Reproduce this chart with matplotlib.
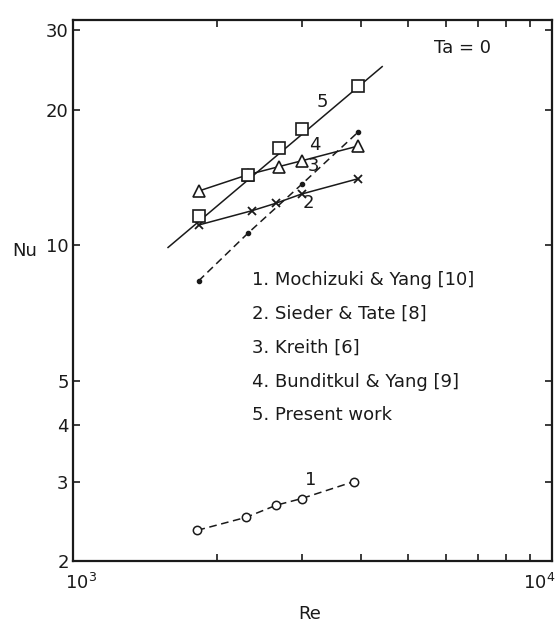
import matplotlib
matplotlib.use("Agg")
import matplotlib.pyplot as plt
import matplotlib.transforms as mtransforms
from matplotlib.ticker import FixedLocator, NullFormatter, NullLocator

# 1. Mochizuki & Yang (open circles, dashed)
re1 = [1820, 2300, 2660, 3000, 3860]
nu1 = [2.34, 2.50, 2.66, 2.75, 3.0]
# 2. Sieder & Tate (crosses, solid)
re2 = [1830, 2370, 2650, 3000, 3930]
nu2 = [11.1, 11.95, 12.4, 13.0, 14.05]
# 3. Kreith (small dots, dashed)
re3 = [1830, 2320, 3000, 3930]
nu3 = [8.35, 10.65, 13.65, 17.8]
# 4. Bunditkul & Yang (open triangles, solid)
re4 = [1830, 2320, 2690, 3000, 3930]
nu4 = [13.2, 14.35, 14.95, 15.4, 16.6]
# 5. Present work (open squares + fitted line)
re5 = [1830, 2320, 2690, 3000, 3930]
nu5 = [11.6, 14.35, 16.4, 18.1, 22.6]
fit5_re = [1580, 4420]
fit5_nu = [9.9, 24.9]

legend_lines = ["1. Mochizuki & Yang [10]", "2. Sieder & Tate [8]", "3. Kreith [6]",
                "4. Bunditkul & Yang [9]", "5. Present work"]
curve_tags = ["1", "2", "3", "4", "5"]
tag_re = [3130, 3100, 3170, 3200, 3310]
tag_nu = [3.02, 12.4, 15.0, 16.7, 20.8]
y_ticks = [2, 3, 4, 5, 10, 20, 30]
x_ticks = [1000, 10000]
x_tick_labels = ["$10^{3}$", "$10^{4}$"]

plt.rcParams["font.family"] = ["DejaVu Sans"]
fig = plt.figure(figsize=(5.56, 6.22), dpi=100)
ax = fig.add_axes([0.131, 0.098, 0.862, 0.870])

k = "#1a1a1a"
ax.plot(re1, nu1, color=k, lw=1.1, ls=(0, (5, 3)), marker="o", ms=6, mfc="white", mec=k, mew=1.1)
ax.plot(re2, nu2, color=k, lw=1.1, marker="x", ms=6, mew=1.3)
ax.plot(re3, nu3, color=k, lw=1.1, ls=(0, (5, 3)), marker="o", ms=3, mfc=k, mec=k)
ax.plot(re4, nu4, color=k, lw=1.1, marker="^", ms=9, mfc="white", mec=k, mew=1.2)
ax.plot(fit5_re, fit5_nu, color=k, lw=1.1)
ax.plot(re5, nu5, ls="none", marker="s", ms=8, mfc="white", mec=k, mew=1.2)

for t, x, y in zip(curve_tags, tag_re, tag_nu):
    ax.text(x, y, t, fontsize=13, color=k, ha="center", va="center")

ax.set_xscale("log")
ax.set_yscale("log")
ax.set_xlim(1000, 10000)
ax.set_ylim(2, 31.6)

ax.xaxis.set_major_locator(FixedLocator(x_ticks))
ax.xaxis.set_major_formatter(NullFormatter())
ax.xaxis.set_minor_locator(FixedLocator([2000, 3000, 4000, 5000, 6000, 7000, 8000, 9000]))
ax.xaxis.set_minor_formatter(NullFormatter())
ax.yaxis.set_major_locator(FixedLocator(y_ticks))
ax.yaxis.set_major_formatter(plt.FixedFormatter([str(v) for v in y_ticks]))
ax.yaxis.set_minor_locator(NullLocator())

ax.tick_params(which="both", direction="in", top=True, right=True, width=1.2, color=k,
               labelsize=13, labelcolor=k)
ax.tick_params(which="major", length=5, pad=3)
ax.tick_params(which="minor", length=5)
for s in ax.spines.values():
    s.set_linewidth(1.6)
    s.set_color(k)

# x decade labels placed by hand so the 10^4 one stays inside the figure
blend = ax.get_xaxis_transform()
ax.text(x_ticks[0], -0.022, x_tick_labels[0], fontsize=13, color=k, ha="center", va="top",
        transform=blend + mtransforms.ScaledTranslation(8 / 100, 0, fig.dpi_scale_trans))
ax.text(x_ticks[1], -0.022, x_tick_labels[1], fontsize=13, color=k, ha="right", va="top",
        transform=blend + mtransforms.ScaledTranslation(3 / 100, 0, fig.dpi_scale_trans))

ax.set_xlabel("Re", fontsize=13, color=k)
ax.xaxis.set_label_coords(0.495, -0.082)
ax.set_ylabel("Nu", fontsize=13, color=k, rotation=0)
ax.yaxis.set_label_coords(-0.10, 0.556)

ax.text(0.812, 0.948, "Ta = 0", transform=ax.transAxes, fontsize=13, color=k,
        ha="center", va="center")
leg_y = [0.519, 0.457, 0.394, 0.331, 0.270]
for line, y in zip(legend_lines, leg_y):
    ax.text(0.374, y, line, transform=ax.transAxes, fontsize=13, color=k,
            ha="left", va="center")

fig.savefig("out.png", dpi=100)
